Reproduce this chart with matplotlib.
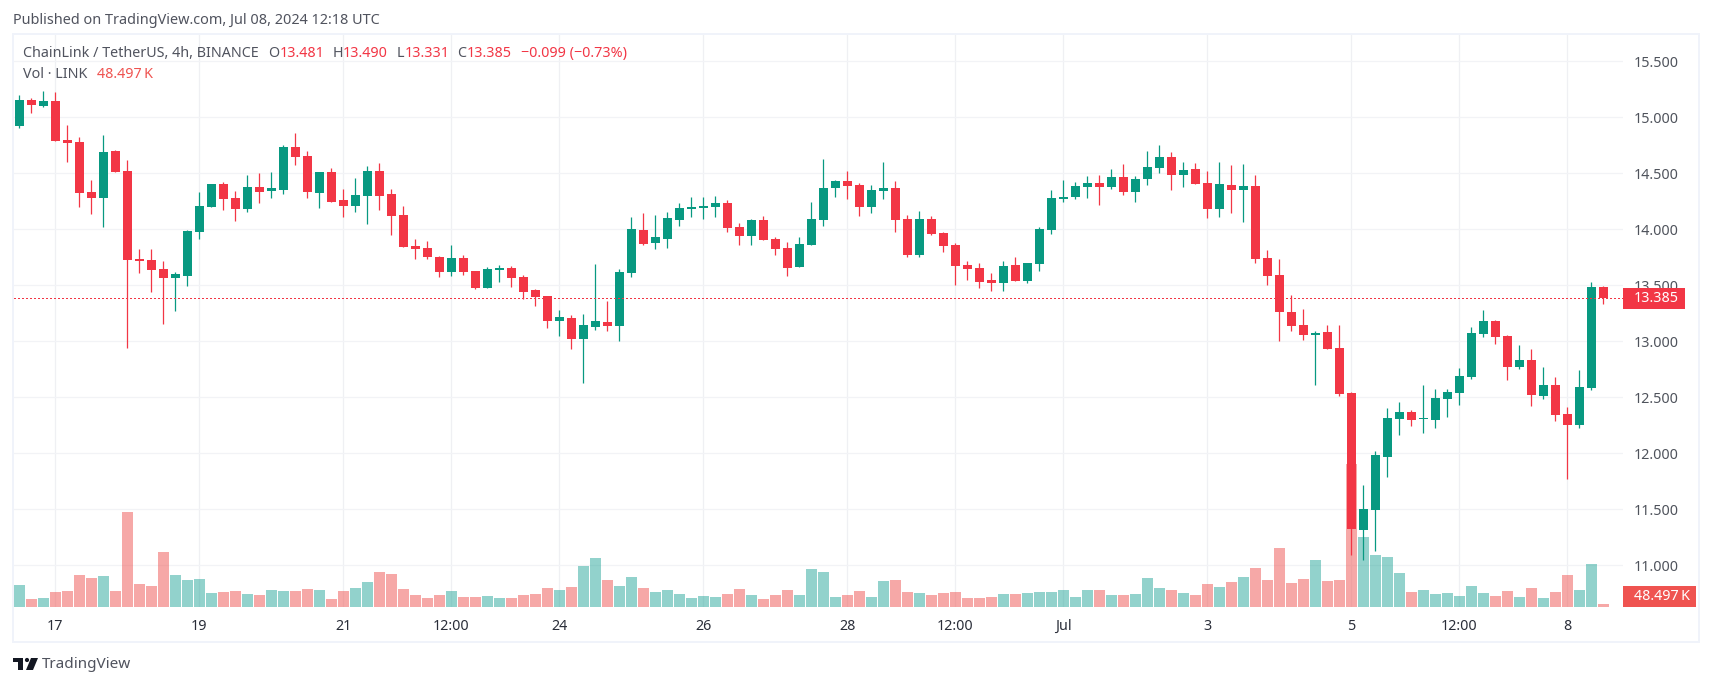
import matplotlib
matplotlib.use('Agg')
import matplotlib.pyplot as plt
import matplotlib.transforms as mtransforms
from matplotlib.patches import Rectangle, Polygon, Circle

plt.rcParams['font.family'] = ['Noto Sans', 'DejaVu Sans']

W, H = 1713, 686
GREEN = '#089981'
RED = '#F23645'
FS = 10.3

opens = [14.923, 15.155, 15.101, 15.146, 14.798, 14.780, 14.333, 14.280, 14.699, 14.521,
         13.735, 13.726, 13.646, 13.566, 13.583, 13.976, 14.199, 14.405, 14.280, 14.182,
         14.378, 14.342, 14.351, 14.735, 14.655, 14.324, 14.512, 14.262, 14.208, 14.298,
         14.521, 14.316, 14.128, 13.851, 13.833, 13.753, 13.619, 13.744, 13.628, 13.476,
         13.637, 13.655, 13.574, 13.458, 13.405, 13.182, 13.208, 13.021, 13.128, 13.173,
         13.137, 13.610, 13.994, 13.878, 13.914, 14.083, 14.182, 14.191, 14.199, 14.235,
         14.021, 13.941, 14.083, 13.914, 13.833, 13.664, 13.860, 14.083, 14.369, 14.432,
         14.396, 14.199, 14.342, 14.369, 14.092, 13.771, 14.092, 13.967, 13.860, 13.682,
         13.655, 13.548, 13.521, 13.682, 13.539, 13.691, 13.994, 14.271, 14.289, 14.378,
         14.414, 14.378, 14.467, 14.333, 14.449, 14.548, 14.646, 14.485, 14.539, 14.414,
         14.182, 14.396, 14.351, 14.387, 13.744, 13.592, 13.262, 13.146, 13.057, 13.083,
         12.941, 12.539, 11.316, 11.494, 11.967, 12.307, 12.369, 12.307, 12.298, 12.485,
         12.539, 12.682, 13.066, 13.182, 13.048, 12.771, 12.833, 12.512, 12.610, 12.351,
         12.253, 12.583, 13.481]
highs = [15.199, 15.170, 15.235, 15.226, 14.932, 14.824, 14.440, 14.842, 14.708, 14.619,
         13.824, 13.824, 13.717, 13.619, 13.994, 14.333, 14.405, 14.423, 14.342, 14.485,
         14.503, 14.512, 14.753, 14.860, 14.699, 14.512, 14.548, 14.360, 14.458, 14.565,
         14.592, 14.360, 14.208, 13.914, 13.896, 13.762, 13.860, 13.771, 13.628, 13.664,
         13.682, 13.673, 13.592, 13.467, 13.405, 13.280, 13.235, 13.244, 13.691, 13.360,
         13.646, 14.110, 14.146, 14.128, 14.155, 14.235, 14.289, 14.289, 14.298, 14.262,
         14.057, 14.092, 14.119, 13.932, 13.887, 13.932, 14.244, 14.628, 14.441, 14.521,
         14.414, 14.396, 14.601, 14.432, 14.128, 14.164, 14.119, 13.976, 13.878, 13.717,
         13.700, 13.610, 13.717, 13.753, 13.700, 14.021, 14.351, 14.441, 14.423, 14.476,
         14.485, 14.539, 14.583, 14.476, 14.699, 14.753, 14.691, 14.601, 14.592, 14.521,
         14.601, 14.574, 14.583, 14.485, 13.816, 13.735, 13.414, 13.289, 13.092, 13.146,
         13.146, 12.548, 11.717, 12.021, 12.405, 12.458, 12.387, 12.610, 12.574, 12.574,
         12.762, 13.128, 13.280, 13.191, 13.057, 12.967, 12.932, 12.771, 12.682, 12.414,
         12.744, 13.530, 13.490]
lows = [14.905, 15.039, 15.092, 14.789, 14.601, 14.199, 14.137, 14.021, 14.512, 12.940,
        13.610, 13.440, 13.155, 13.271, 13.494, 13.914, 14.199, 14.173, 14.074, 14.155,
        14.235, 14.280, 14.316, 14.574, 14.280, 14.190, 14.244, 14.110, 14.155, 14.048,
        14.173, 13.949, 13.842, 13.735, 13.735, 13.574, 13.583, 13.592, 13.467, 13.476,
        13.530, 13.485, 13.378, 13.316, 13.119, 13.048, 12.932, 12.628, 13.101, 13.092,
        13.003, 13.574, 13.860, 13.824, 13.833, 14.030, 14.110, 14.092, 14.110, 13.976,
        13.860, 13.860, 13.905, 13.771, 13.583, 13.664, 13.860, 14.030, 14.289, 14.271,
        14.119, 14.146, 14.271, 13.976, 13.753, 13.753, 13.949, 13.798, 13.503, 13.548,
        13.476, 13.449, 13.449, 13.539, 13.521, 13.628, 13.958, 14.244, 14.271, 14.280,
        14.217, 14.360, 14.307, 14.244, 14.396, 14.503, 14.351, 14.378, 14.405, 14.101,
        14.110, 14.146, 14.066, 13.700, 13.503, 13.003, 13.092, 13.012, 12.610, 12.932,
        12.512, 11.092, 11.048, 11.128, 11.789, 12.164, 12.244, 12.182, 12.226, 12.324,
        12.432, 12.664, 13.039, 12.976, 12.655, 12.753, 12.423, 12.485, 12.289, 11.771,
        12.226, 12.566, 13.331]
closes = [15.155, 15.110, 15.146, 14.789, 14.771, 14.324, 14.280, 14.690, 14.512, 13.726,
          13.717, 13.637, 13.566, 13.601, 13.985, 14.208, 14.405, 14.271, 14.182, 14.378,
          14.333, 14.369, 14.735, 14.646, 14.333, 14.512, 14.244, 14.208, 14.307, 14.521,
          14.298, 14.119, 13.842, 13.824, 13.753, 13.619, 13.744, 13.619, 13.476, 13.646,
          13.655, 13.566, 13.441, 13.396, 13.182, 13.217, 13.021, 13.146, 13.182, 13.137,
          13.619, 14.003, 13.869, 13.932, 14.101, 14.191, 14.199, 14.208, 14.235, 14.012,
          13.941, 14.083, 13.905, 13.824, 13.655, 13.869, 14.092, 14.369, 14.432, 14.387,
          14.199, 14.351, 14.369, 14.083, 13.771, 14.092, 13.958, 13.851, 13.673, 13.646,
          13.530, 13.521, 13.673, 13.539, 13.700, 14.003, 14.280, 14.289, 14.387, 14.414,
          14.378, 14.467, 14.333, 14.449, 14.557, 14.646, 14.485, 14.530, 14.405, 14.182,
          14.405, 14.351, 14.387, 13.735, 13.583, 13.262, 13.137, 13.057, 13.074, 12.932,
          12.530, 11.324, 11.503, 11.985, 12.316, 12.369, 12.298, 12.313, 12.494, 12.548,
          12.691, 13.074, 13.182, 13.039, 12.771, 12.833, 12.521, 12.610, 12.342, 12.253,
          12.592, 13.485, 13.385]

# volume in thousands of LINK
volumes = [356, 129, 146, 243, 259, 517, 469, 501, 259, 1536,
           372, 340, 889, 517, 437, 453, 226, 243, 259, 210,
           194, 275, 259, 259, 291, 275, 129, 259, 307, 404,
           566, 534, 291, 194, 146, 194, 259, 162, 162, 178,
           146, 146, 194, 210, 307, 275, 323, 663, 792, 437,
           340, 485, 307, 243, 275, 210, 146, 178, 162, 210,
           291, 194, 129, 194, 275, 194, 614, 566, 162, 194,
           259, 162, 420, 437, 243, 226, 194, 226, 243, 146,
           146, 162, 210, 210, 226, 243, 243, 275, 162, 275,
           275, 194, 194, 210, 469, 307, 275, 226, 194, 372,
           323, 404, 485, 631, 437, 954, 388, 453, 760, 420,
           437, 2312, 1132, 841, 809, 550, 243, 275, 210, 226,
           178, 340, 226, 178, 259, 162, 307, 146, 243, 517,
           275, 695, 48.497]

# index of the candle under each time label
time_pos = [3, 15, 27, 36, 45, 57, 69, 78, 87, 99, 111, 120, 129]
time_labels = ['17', '19', '21', '12:00', '24', '26', '28', '12:00', 'Jul', '3', '5', '12:00', '8']
price_ticks = [11.0, 11.5, 12.0, 12.5, 13.0, 13.5, 14.0, 14.5, 15.0, 15.5]

last_price = closes[-1]
last_vol = volumes[-1]

fig = plt.figure(figsize=(W / 100, H / 100), dpi=100, facecolor='white')
# pixel coordinates, y going down, for the texts around the chart
px = mtransforms.Affine2D().scale(1 / W, -1 / H).translate(0, 1) + fig.transFigure

fig.add_artist(Rectangle((13, 34), 1686, 608, transform=px, fill=False,
                         edgecolor='#F0F3FA', linewidth=1.44, zorder=0))

pos = [14 / W, 1 - 607 / H, (1623 - 14) / W, 572 / H]

# bottom axes: grid and labels
ax = fig.add_axes(pos, zorder=1)
ax.set_xlim(-0.444, 133.64)
ax.set_ylim(10.628, 15.735)
ax.yaxis.tick_right()
ax.set_yticks(price_ticks)
ax.set_yticklabels(['%.3f' % p for p in price_ticks])
ax.set_xticks(time_pos)
ax.set_xticklabels(time_labels)
ax.tick_params(axis='y', length=0, pad=8, labelsize=FS, labelcolor='#4f535c')
ax.tick_params(axis='x', length=0, pad=8.5, labelsize=FS, labelcolor='#2a2e39')
ax.get_xticklabels()[8].set_fontweight('bold')
ax.grid(True, axis='y', color='#F2F3F6', linewidth=0.9)
ax.grid(True, axis='x', color='#EFF0F3', linewidth=0.9)
ax.set_axisbelow(True)
for s in ax.spines.values():
    s.set_visible(False)

# volume in the middle
ax_vol = fig.add_axes(pos, zorder=2, sharex=ax)
ax_vol.patch.set_visible(False)
ax_vol.axis('off')
ax_vol.set_ylim(0, 572 * 16.17)
vol_colors = ['#26A69A' if c >= o else '#EF5350' for o, c in zip(opens, closes)]
ax_vol.bar(range(len(volumes)), volumes, width=0.92, color=vol_colors, alpha=0.5, linewidth=0)

# candles on top
ax_c = fig.add_axes(pos, zorder=3, sharex=ax, sharey=ax)
ax_c.patch.set_visible(False)
ax_c.axis('off')
colors = [GREEN if c >= o else RED for o, c in zip(opens, closes)]
xs = list(range(len(opens)))
ax_c.vlines(xs, lows, highs, colors=colors, linewidth=0.9)
ax_c.bar(xs, [abs(c - o) for o, c in zip(opens, closes)], bottom=[min(o, c) for o, c in zip(opens, closes)],
         width=0.75, color=colors, linewidth=0)
ax_c.axhline(last_price, color=RED, linewidth=0.75, linestyle=(0, (1, 2.6)), antialiased=False)

# boxes on the price axis
fig.add_artist(Rectangle((1623, 288), 62, 21, transform=px, color=RED, linewidth=0, zorder=5))
fig.text(1634, 298.5, '%.3f' % last_price, transform=px, color='white', fontsize=FS,
         va='center', ha='left', zorder=6)
fig.add_artist(Rectangle((1623, 586), 73, 21, transform=px, color='#EF5350', linewidth=0, zorder=5))
fig.text(1634, 596.5, '%.3f\u2009K' % last_vol, transform=px, color='white', fontsize=FS,
         va='center', ha='left', zorder=6)

# header and legend
fig.text(13, 20, 'Published on TradingView.com, Jul 08, 2024 12:18 UTC', transform=px,
         color='#50535e', fontsize=10.4, va='center')
fig.text(23, 53.5, 'ChainLink / TetherUS, 4h, BINANCE', transform=px, color='#50535e', fontsize=FS,
         va='center', zorder=6)
legend_x = [268, 332.5, 396.5, 457]
legend_val_x = [280, 342.5, 405, 467]
legend_name = ['O', 'H', 'L', 'C']
legend_val = [opens[-1], highs[-1], lows[-1], closes[-1]]
for x, vx, n, v in zip(legend_x, legend_val_x, legend_name, legend_val):
    fig.text(x, 53.5, n, transform=px, color='#50535e', fontsize=FS, va='center', zorder=6)
    fig.text(vx, 53.5, '%.3f' % v, transform=px, color=RED, fontsize=FS, va='center', zorder=6)
fig.text(521, 53.5, '\u22120.099 (\u22120.73%)', transform=px, color=RED, fontsize=FS, va='center', zorder=6)
fig.text(23, 75, 'Vol \u00b7 LINK', transform=px, color='#50535e', fontsize=FS, va='center', zorder=6)
fig.text(97, 75, '%.3f\u2009K' % last_vol, transform=px, color='#EF5350', fontsize=FS, va='center', zorder=6)

# TradingView logo at the bottom
fig.add_artist(Rectangle((13, 658), 10, 4, transform=px, color='#131722', linewidth=0))
fig.add_artist(Rectangle((18, 658), 5, 12, transform=px, color='#131722', linewidth=0))
fig.add_artist(Circle((27, 660), 2.1, transform=px, color='#131722', linewidth=0))
fig.add_artist(Polygon([(31, 658), (38, 658), (33, 670), (26, 670)], transform=px, color='#131722', linewidth=0))
fig.text(42, 665, 'TradingView', transform=px, color='#50535e', fontsize=11, va='center')

fig.savefig('out.png', dpi=100)
